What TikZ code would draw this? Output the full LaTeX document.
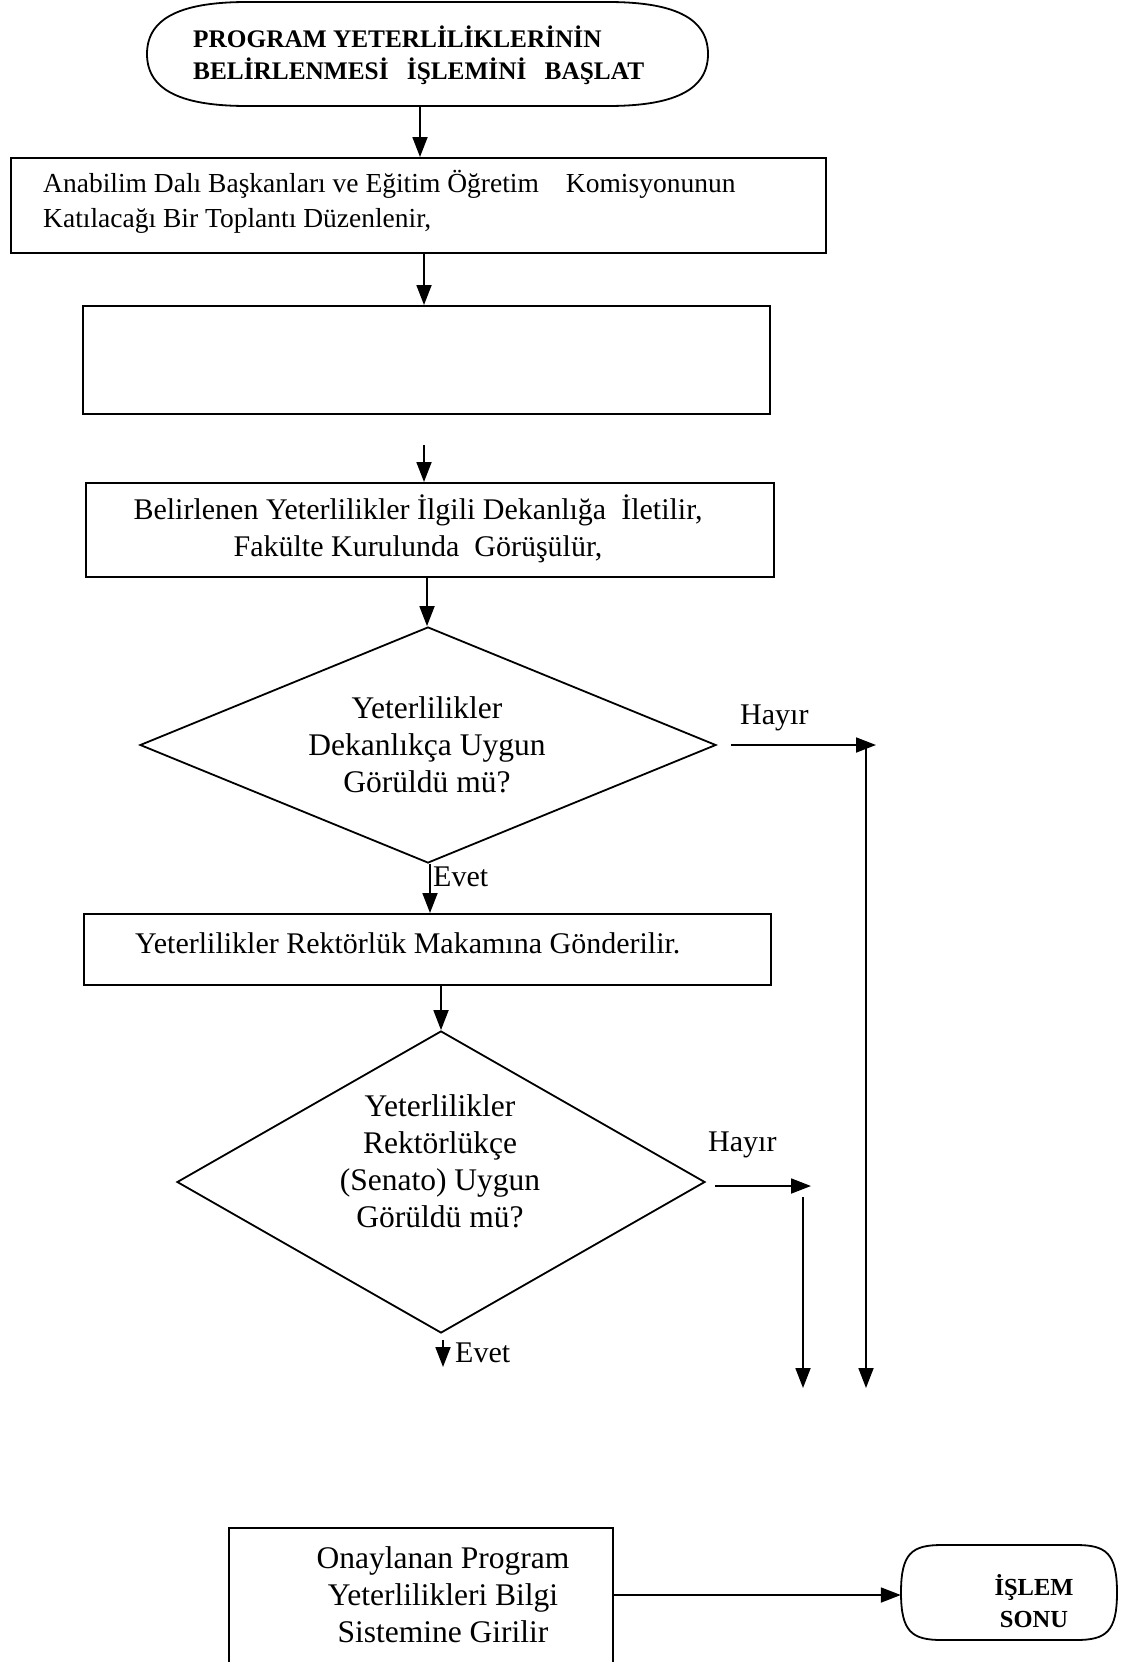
\documentclass[tikz,border=0pt]{standalone}
\usepackage{fontspec}
\setmainfont{Liberation Serif}
\usetikzlibrary{arrows.meta,shapes.geometric}

\tikzset{
  line/.style={line width=1.8pt},
  arr/.style={line, -{Triangle[length=20pt,width=15pt]}},
  procbox/.style={draw, line, rectangle, anchor=north west, inner sep=0pt},
  decision/.style={draw, line, diamond, inner sep=0pt},
  frame/.style={rectangle, inner sep=0pt},
  txt/.style={inner sep=0pt, align=center, font=\fontsize{30}{36.5}\selectfont},
  bigtxt/.style={inner sep=0pt, align=center, font=\fontsize{31.5}{37}\selectfont},
  boldtxt/.style={inner sep=0pt, font=\bfseries\fontsize{25.3}{32}\selectfont},
}

\begin{document}
\begin{tikzpicture}[x=1pt,y=-1pt]
\useasboundingbox (0,0) rectangle (1139,1662);

% start terminal
\node[frame, minimum width=561pt, minimum height=104pt] (start) at (427.5,54) {};
\draw[line] (147,54) .. controls (147,16) and (185,2) .. (247,2) -- (608,2)
  .. controls (670,2) and (708,16) .. (708,54)
  .. controls (708,92) and (670,106) .. (608,106) -- (247,106)
  .. controls (185,106) and (147,92) .. (147,54) -- cycle;
\node[boldtxt, align=left, anchor=west] (startt) at (193,55.5)
  {PROGRAM YETERLİLİKLERİNİN\\BELİRLENMESİ\hspace{12pt} İŞLEMİNİ\hspace{12pt} BAŞLAT};

% process boxes
\node[procbox, minimum width=815pt, minimum height=95pt] (b1) at (10,157) {};
\node[inner sep=0pt, align=left, anchor=west, font=\fontsize{27.5}{35}\selectfont] (b1t) at (43,202)
  {Anabilim Dalı Başkanları ve Eğitim Öğretim\hspace{27pt}Komisyonunun\\Katılacağı Bir Toplantı Düzenlenir,};

\node[procbox, minimum width=687pt, minimum height=108pt] (b2) at (82,305) {};

\node[procbox, minimum width=688pt, minimum height=94pt] (b3) at (85,482) {};
\node[txt] (b3t) at (418,529)
  {Belirlenen Yeterlilikler İlgili Dekanlığa\ \ İletilir,\\Fakülte Kurulunda\ \ Görüşülür,};

\node[procbox, minimum width=687pt, minimum height=71pt] (b4) at (83,913) {};
\node[txt, anchor=west] (b4t) at (135,943) {Yeterlilikler Rektörlük Makamına Gönderilir.};

\node[procbox, minimum width=384pt, minimum height=180pt] (b5) at (228,1527) {};
\node[bigtxt] (b5t) at (443,1595) {Onaylanan Program\\Yeterlilikleri Bilgi\\Sistemine Girilir};

% decisions
\node[decision, minimum width=576pt, minimum height=236pt] (d1) at (428,745) {};
\node[bigtxt] (d1t) at (427,745) {Yeterlilikler\\Dekanlıkça Uygun\\Görüldü mü?};

\node[decision, minimum width=528pt, minimum height=302pt] (d2) at (441,1182) {};
\node[bigtxt] (d2t) at (440,1161) {Yeterlilikler\\Rektörlükçe\\(Senato) Uygun\\Görüldü mü?};

% end terminal
\node[frame, minimum width=216pt, minimum height=95pt] (endn) at (1009,1592.5) {};
\draw[line] (901,1592.5) .. controls (901,1553) and (912,1545) .. (942,1545) -- (1076,1545)
  .. controls (1106,1545) and (1117,1553) .. (1117,1592.5)
  .. controls (1117,1632) and (1106,1640) .. (1076,1640) -- (942,1640)
  .. controls (912,1640) and (901,1632) .. (901,1592.5) -- cycle;
\node[boldtxt, align=center, font=\bfseries\fontsize{24.5}{32}\selectfont] (endt) at (1034,1601) {İŞLEM\\SONU};

% labels
\node[txt, anchor=west] (hayir1) at (740,718) {Hayır};
\node[txt, anchor=west] (hayir2) at (708,1145) {Hayır};
\node[txt, anchor=west] (evet1) at (433,877) {Evet};
\node[txt, anchor=west] (evet2) at (455,1353) {Evet};

% column positions of the vertical connectors
\coordinate (x1) at (420,0);
\coordinate (x2) at (424,0);
\coordinate (x3) at (427,0);
\coordinate (x4) at (430,0);
\coordinate (x5) at (441,0);

% free ends
\coordinate (a3s) at (424,445);
\coordinate (h1s) at (731,745);
\coordinate (h1e) at (876,745);
\coordinate (v1s) at (866,745);
\coordinate (v1e) at (866,1388);
\coordinate (h2s) at (715,1186);
\coordinate (h2e) at (811,1186);
\coordinate (v2s) at (803,1197);
\coordinate (v2e) at (803,1388);
\coordinate (e2s) at (443,1340);
\coordinate (e2e) at (443,1367);

% connectors
\draw[arr] (start.south -| x1) -- (b1.north -| x1);
\draw[arr] (b1.south -| x2) -- (b2.north -| x2);
\draw[arr] (a3s) -- (b3.north -| x2);
\draw[arr] (b3.south -| x3) -- (d1.north -| x3);
\draw[arr] (d1.south -| x4) -- (b4.north -| x4);
\draw[arr] (b4.south -| x5) -- (d2.north -| x5);
\draw[arr] (h1s) -- (h1e);
\draw[arr] (v1s) -- (v1e);
\draw[arr] (h2s) -- (h2e);
\draw[arr] (v2s) -- (v2e);
\draw[arr] (e2s) -- (e2e);
\draw[arr] (b5t -| b5.east) -- (b5t -| endn.west);
\end{tikzpicture}
\end{document}
